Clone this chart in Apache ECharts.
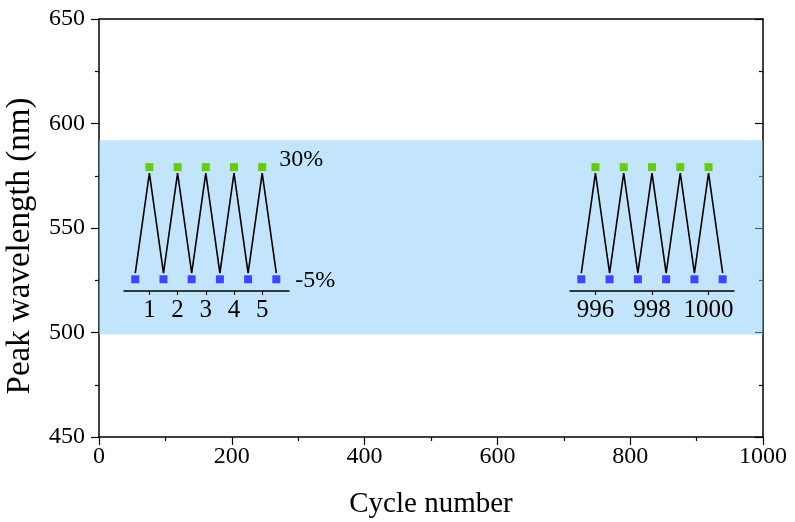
<!DOCTYPE html>
<html>
<head>
<meta charset="utf-8">
<script src="https://cdn.jsdelivr.net/npm/echarts@6/dist/echarts.min.js"></script>
<style>
  html, body { margin: 0; padding: 0; background: #fff; }
  #main { width: 795px; height: 522px; }
</style>
</head>
<body>
<div id="main"></div>
<script>
// band of the measured range
var bandRange = [499, 592];

// first cycles (left inset)
var leftLowX = [0.5, 1.5, 2.5, 3.5, 4.5, 5.5];
var leftHighX = [1, 2, 3, 4, 5];
var leftTicks = [1, 2, 3, 4, 5];

// last cycles (right inset)
var rightLowX = [995.5, 996.5, 997.5, 998.5, 999.5, 1000.5];
var rightHighX = [996, 997, 998, 999, 1000];
var rightTicks = [996, 998, 1000];

// peak wavelength levels (nm)
var highLevel = 579.2;
var lowLevel = 525.6;
var lineTop = 576.3;
var lineBottom = 528.5;
var levelLabels = ["30%", "-5%"];

var FONT = "'Times New Roman', 'Liberation Serif', Times, serif";

function plain(v) {
  return String(v);
}

function zigzag(lowX, highX) {
  var pts = [];
  for (var i = 0; i < lowX.length; i++) {
    pts.push([lowX[i], lineBottom]);
    if (i < highX.length) pts.push([highX[i], lineTop]);
  }
  return pts;
}

function pointsAt(xs, y, labelText) {
  return xs.map(function (x, i) {
    var item = { value: [x, y] };
    if (labelText && i === xs.length - 1) {
      item.label = { show: true, formatter: labelText };
    }
    return item;
  });
}

var dom = document.getElementById("main");
var myChart = echarts.init(dom, null, { renderer: "canvas" });

var insetX = function (gridIndex, min, max, ticks) {
  return {
    type: "value",
    gridIndex: gridIndex,
    min: min,
    max: max,
    z: 5,
    axisLine: { show: true, lineStyle: { color: "#000", width: 1.5 } },
    axisTick: {
      show: true,
      inside: false,
      length: 4,
      customValues: ticks,
      lineStyle: { color: "#000", width: 1.2 },
    },
    axisLabel: {
      show: true,
      customValues: ticks,
      formatter: plain,
      margin: 7,
      color: "#000",
      fontFamily: FONT,
      fontSize: 25,
    },
    splitLine: { show: false },
  };
};

var insetY = function (gridIndex) {
  return {
    type: "value",
    gridIndex: gridIndex,
    min: 520,
    max: 650,
    show: false,
  };
};

var option = {
  animation: false,
  backgroundColor: "#fff",
  grid: [
    { left: 99, right: 32, top: 19, bottom: 85, outerBoundsMode: "none", containLabel: false },
    { left: 124, right: 506, top: 19, bottom: 231, outerBoundsMode: "none", containLabel: false },
    { left: 570, right: 61, top: 19, bottom: 231, outerBoundsMode: "none", containLabel: false },
  ],
  xAxis: [
    {
      type: "value",
      gridIndex: 0,
      min: 0,
      max: 1000,
      interval: 200,
      name: "Cycle number",
      nameLocation: "middle",
      nameGap: 53,
      nameTextStyle: { color: "#000", fontFamily: FONT, fontSize: 29 },
      axisLine: { show: true, onZero: false, lineStyle: { color: "#000", width: 1.5 } },
      axisTick: { show: true, inside: false, length: 8, lineStyle: { color: "#000", width: 1.2 } },
      minorTick: { show: true, splitNumber: 2, length: 4, lineStyle: { color: "#000", width: 1.2 } },
      axisLabel: { color: "#000", fontFamily: FONT, fontSize: 24, margin: 8, formatter: plain },
      splitLine: { show: false },
    },
    {
      type: "value",
      gridIndex: 0,
      position: "top",
      min: 0,
      max: 1000,
      axisLine: { show: true, onZero: false, lineStyle: { color: "#000", width: 1.5 } },
      axisTick: { show: false },
      axisLabel: { show: false },
      splitLine: { show: false },
    },
    insetX(1, 0.1, 5.95, leftTicks),
    insetX(2, 995.1, 1000.9, rightTicks),
  ],
  yAxis: [
    {
      type: "value",
      gridIndex: 0,
      min: 450,
      max: 650,
      interval: 50,
      name: "Peak wavelength (nm)",
      nameLocation: "middle",
      nameGap: 62,
      nameTextStyle: {
        color: "#000",
        fontFamily: FONT,
        fontSize: 33,
        padding: [0, 36, 0, 0],
      },
      axisLine: { show: true, onZero: false, lineStyle: { color: "#000", width: 1.5 } },
      axisTick: { show: true, inside: false, length: 8, lineStyle: { color: "#000", width: 1.2 } },
      minorTick: { show: true, splitNumber: 2, length: 4, lineStyle: { color: "#000", width: 1.2 } },
      axisLabel: { color: "#000", fontFamily: FONT, fontSize: 24, margin: 14 },
      splitLine: { show: false },
    },
    {
      type: "value",
      gridIndex: 0,
      position: "right",
      min: 450,
      max: 650,
      interval: 50,
      axisLine: { show: true, onZero: false, lineStyle: { color: "#000", width: 1.5 } },
      axisTick: { show: true, inside: true, length: 8, lineStyle: { color: "#000", width: 1.2 } },
      minorTick: { show: true, splitNumber: 2, length: 4, lineStyle: { color: "#000", width: 1.2 } },
      axisLabel: { show: false },
      splitLine: { show: false },
    },
    insetY(1),
    insetY(2),
  ],
  series: [
    {
      name: "band",
      type: "line",
      xAxisIndex: 0,
      yAxisIndex: 0,
      data: [],
      z: 3,
      markArea: {
        silent: true,
        itemStyle: { color: "rgba(133, 203, 247, 0.5)" },
        data: [[{ xAxis: 0, yAxis: bandRange[0] }, { xAxis: 1000, yAxis: bandRange[1] }]],
      },
    },
    {
      type: "line",
      xAxisIndex: 2,
      yAxisIndex: 2,
      data: zigzag(leftLowX, leftHighX),
      symbol: "none",
      z: 6,
      lineStyle: { color: "#000", width: 1.6 },
    },
    {
      type: "line",
      xAxisIndex: 3,
      yAxisIndex: 3,
      data: zigzag(rightLowX, rightHighX),
      symbol: "none",
      z: 6,
      lineStyle: { color: "#000", width: 1.6 },
    },
    {
      type: "scatter",
      xAxisIndex: 2,
      yAxisIndex: 2,
      symbol: "rect",
      symbolSize: 8,
      z: 7,
      itemStyle: { color: "#66cc11", opacity: 1 },
      label: { position: "right", distance: 13, offset: [0, -7], color: "#000", fontFamily: FONT, fontSize: 24 },
      data: pointsAt(leftHighX, highLevel, levelLabels[0]),
    },
    {
      type: "scatter",
      xAxisIndex: 2,
      yAxisIndex: 2,
      symbol: "rect",
      symbolSize: 8,
      z: 7,
      itemStyle: { color: "#4444ff", opacity: 1 },
      label: { position: "right", distance: 15, offset: [0, 1], color: "#000", fontFamily: FONT, fontSize: 24 },
      data: pointsAt(leftLowX, lowLevel, levelLabels[1]),
    },
    {
      type: "scatter",
      xAxisIndex: 3,
      yAxisIndex: 3,
      symbol: "rect",
      symbolSize: 8,
      z: 7,
      itemStyle: { color: "#66cc11", opacity: 1 },
      data: pointsAt(rightHighX, highLevel),
    },
    {
      type: "scatter",
      xAxisIndex: 3,
      yAxisIndex: 3,
      symbol: "rect",
      symbolSize: 8,
      z: 7,
      itemStyle: { color: "#4444ff", opacity: 1 },
      data: pointsAt(rightLowX, lowLevel),
    },
  ],
};

myChart.setOption(option);
window.addEventListener("resize", myChart.resize);
</script>
</body>
</html>
